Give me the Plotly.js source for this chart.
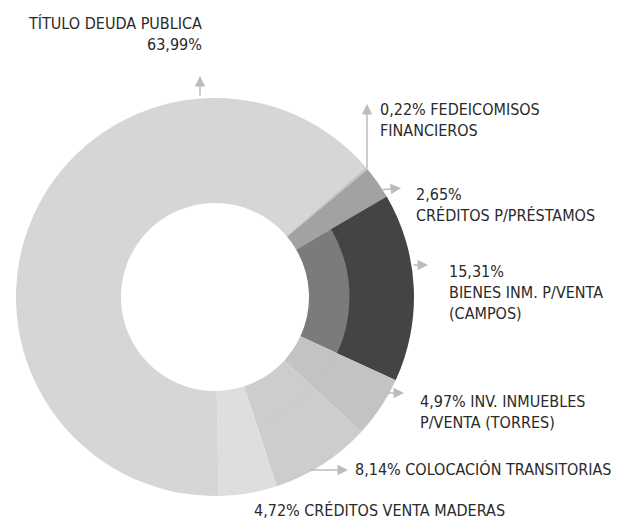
<!DOCTYPE html>
<html>
<head>
<meta charset="utf-8">
<script src="https://cdn.plot.ly/plotly-3.0.1.min.js"></script>
<style>html,body{margin:0;padding:0;background:#fff;}#chart{width:625px;height:525px;}</style>
</head>
<body>
<div id="chart"></div>
<script>
// ---- data ----
var categories = [
  'FEDEICOMISOS FINANCIEROS',
  'CRÉDITOS P/PRÉSTAMOS',
  'BIENES INM. P/VENTA (CAMPOS)',
  'INV. INMUEBLES P/VENTA (TORRES)',
  'COLOCACIÓN TRANSITORIAS',
  'CRÉDITOS VENTA MADERAS',
  'TÍTULO DEUDA PUBLICA'
];
var values = [0.22, 2.65, 15.31, 4.97, 8.14, 4.72, 63.99];
var outerColors = ['#c4c4c4', '#a2a2a2', '#444444', '#c3c3c3', '#cdcdcd', '#dedede', '#d6d6d6'];
var innerColors = ['#c4c4c4', '#a2a2a2', '#7b7b7b', '#c3c3c3', '#cdcdcd', '#dedede', '#d6d6d6'];

function pct(v){ return v.toFixed(2).replace('.', ',') + '%'; }

// label texts built from categories/values
var labelText = [
  pct(values[0]) + ' FEDEICOMISOS<br>FINANCIEROS',
  pct(values[1]) + '<br>CRÉDITOS P/PRÉSTAMOS',
  pct(values[2]) + '<br>BIENES INM. P/VENTA<br>(CAMPOS)',
  pct(values[3]) + ' INV. INMUEBLES<br>P/VENTA (TORRES)',
  pct(values[4]) + ' COLOCACIÓN TRANSITORIAS',
  pct(values[5]) + ' CRÉDITOS VENTA MADERAS',
  'TÍTULO DEUDA PUBLICA<br>' + pct(values[6])
];
var W = 625, H = 525;
// label anchor positions in pixels: [x, y, xanchor, align]
var labelPos = [
  [378, 120, 'left', 'left'],
  [414, 205, 'left', 'left'],
  [447, 292, 'left', 'left'],
  [418, 412, 'left', 'left'],
  [353, 469, 'left', 'left'],
  [252, 510, 'left', 'left'],
  [204, 34, 'right', 'right']
];
// callout arrows: head [x,y], tail [x,y] in pixels
var arrows = [
  [[367, 104], [367, 170]],
  [[401, 188], [380, 190]],
  [[428, 265], [412, 265]],
  [[404, 393], [385, 393]],
  [[348, 470], [308, 470]],
  [[239, 504], [239, 500]],
  [[200, 76], [200, 97]]
];

var font = "'DejaVu Sans Condensed','Liberation Sans Narrow','Roboto',sans-serif";
var annotations = [];
labelText.forEach(function(t, i){
  var p = labelPos[i];
  annotations.push({
    xref: 'paper', yref: 'paper', x: p[0] / W, y: 1 - p[1] / H,
    xanchor: p[2], yanchor: 'middle', align: p[3],
    text: t, showarrow: false,
    font: {family: font, size: 16, color: '#2a2a2a'}
  });
});
arrows.forEach(function(a){
  annotations.push({
    xref: 'paper', yref: 'paper', x: a[0][0] / W, y: 1 - a[0][1] / H,
    ax: a[1][0] - a[0][0], ay: a[1][1] - a[0][1],
    text: '', showarrow: true, arrowhead: 2, arrowsize: 1.4, arrowwidth: 1.5,
    arrowcolor: '#bcbcbc'
  });
});

var cx = 215, cy = 297, R = 199, Rm = 133, Ri = 94;
var outer = {
  type: 'pie', labels: categories, values: values, sort: false,
  direction: 'clockwise', rotation: 49.3,
  hole: Rm / R,
  marker: {colors: outerColors, line: {width: 0}},
  textinfo: 'none', hoverinfo: 'skip', showlegend: false,
  domain: {x: [(cx - R) / W, (cx + R) / W], y: [1 - (cy + R) / H, 1 - (cy - R) / H]}
};
var Rm2 = Rm + 1.5;
var inner = {
  type: 'pie', labels: categories, values: values, sort: false,
  direction: 'clockwise', rotation: 49.3,
  hole: Ri / Rm2,
  marker: {colors: innerColors, line: {width: 0}},
  textinfo: 'none', hoverinfo: 'skip', showlegend: false,
  domain: {x: [(cx - Rm2) / W, (cx + Rm2) / W], y: [1 - (cy + Rm2) / H, 1 - (cy - Rm2) / H]}
};

Plotly.newPlot('chart', [outer, inner], {
  width: W, height: H,
  margin: {l: 0, r: 0, t: 0, b: 0},
  paper_bgcolor: '#ffffff',
  showlegend: false,
  annotations: annotations
}, {staticPlot: true});
</script>
</body>
</html>
